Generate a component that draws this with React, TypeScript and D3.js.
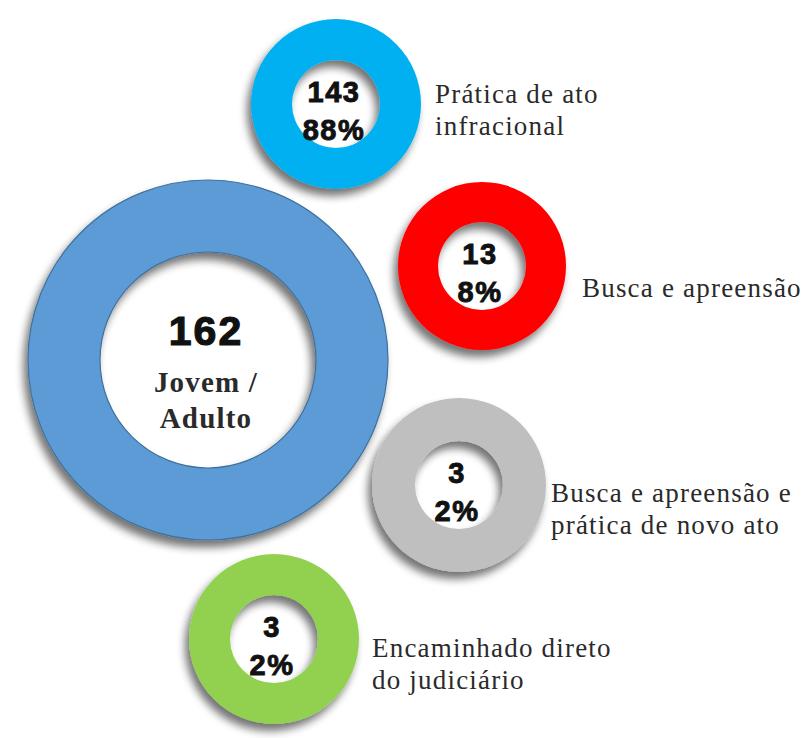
import React from "react";
import * as d3 from "d3";

// ---- data ----
const totalLabel = ["Jovem /", "Adulto"];
const totalValue = 162;
const categories = [
  ["Prática de ato", "infracional"],
  ["Busca e apreensão"],
  ["Busca e apreensão e", "prática de novo ato"],
  ["Encaminhado direto", "do judiciário"],
];
const counts = [143, 13, 3, 3];
const percents = [88, 8, 2, 2];
const colors = ["#00B0F0", "#FF0000", "#BFBFBF", "#92D050"];

// ---- layout (style) ----
const W = 804;
const H = 738;
const rings = [
  { cx: 336, cy: 104, r: 85, ri: 44, lx: 435, ly: 103 },
  { cx: 482, cy: 266, r: 84, ri: 44, lx: 582, ly: 297 },
  { cx: 459, cy: 485, r: 87, ri: 44, lx: 551, ly: 502 },
  { cx: 274, cy: 639, r: 85, ri: 44, lx: 372, ly: 657 },
];
const big = { cx: 208, cy: 360, r: 180, ri: 108 };

const fullArc = (inner: number, outer: number) =>
  d3.arc()({ innerRadius: inner, outerRadius: outer, startAngle: 0, endAngle: 2 * Math.PI }) as string;

export default function App() {
  const txt = "#2a2a2a";
  const serif = "'Liberation Serif', 'Times New Roman', serif";
  const sans = "'Liberation Sans', Arial, sans-serif";
  return (
    <svg width={W} height={H} style={{ position: "absolute", left: 0, top: 0, background: "#fff" }}>
      <defs>
        <filter id="sh" x="-30%" y="-30%" width="160%" height="160%">
          <feGaussianBlur in="SourceAlpha" stdDeviation="4" />
          <feOffset dx="-4" dy="7" result="b" />
          <feComponentTransfer>
            <feFuncA type="linear" slope="0.55" />
          </feComponentTransfer>
          <feMerge>
            <feMergeNode />
            <feMergeNode in="SourceGraphic" />
          </feMerge>
        </filter>
      </defs>
      <rect width={W} height={H} fill="#fff" />
      {/* big ring */}
      <g transform={`translate(${big.cx},${big.cy})`} filter="url(#sh)">
        <path d={fullArc(big.ri, big.r)} fill="#5B9BD5" stroke="#41719C" strokeWidth={1.2} fillRule="evenodd" />
      </g>
      <text x={big.cx - 2} y={345} textAnchor="middle" fontFamily={sans} fontWeight="bold" fontSize={41}
        letterSpacing={2} stroke="#111" strokeWidth={1.2} fill="#111">
        {totalValue}
      </text>
      {totalLabel.map((t, i) => (
        <text key={i} x={big.cx - 2} y={392 + i * 36} textAnchor="middle" fontFamily={serif} fontWeight="bold"
          fontSize={29} letterSpacing={1.2} fill={txt}>
          {t}
        </text>
      ))}
      {rings.map((g, i) => (
        <g key={i}>
          <g transform={`translate(${g.cx},${g.cy})`} filter="url(#sh)">
            <path d={fullArc(g.ri, g.r)} fill={colors[i]} />
          </g>
          <text x={g.cx - 2} y={g.cy - 2} textAnchor="middle" fontFamily={sans} fontWeight="bold" fontSize={29}
            letterSpacing={1.5} stroke="#111" strokeWidth={0.9} fill="#111">
            {counts[i]}
          </text>
          <text x={g.cx - 2} y={g.cy + 36} textAnchor="middle" fontFamily={sans} fontWeight="bold" fontSize={29}
            letterSpacing={1.5} stroke="#111" strokeWidth={0.9} fill="#111">
            {percents[i]}%
          </text>
          {categories[i].map((t, j) => (
            <text key={j} x={g.lx} y={g.ly + j * 32} fontFamily={serif} fontSize={27} letterSpacing={1.2} fill={txt}>
              {t}
            </text>
          ))}
        </g>
      ))}
    </svg>
  );
}
